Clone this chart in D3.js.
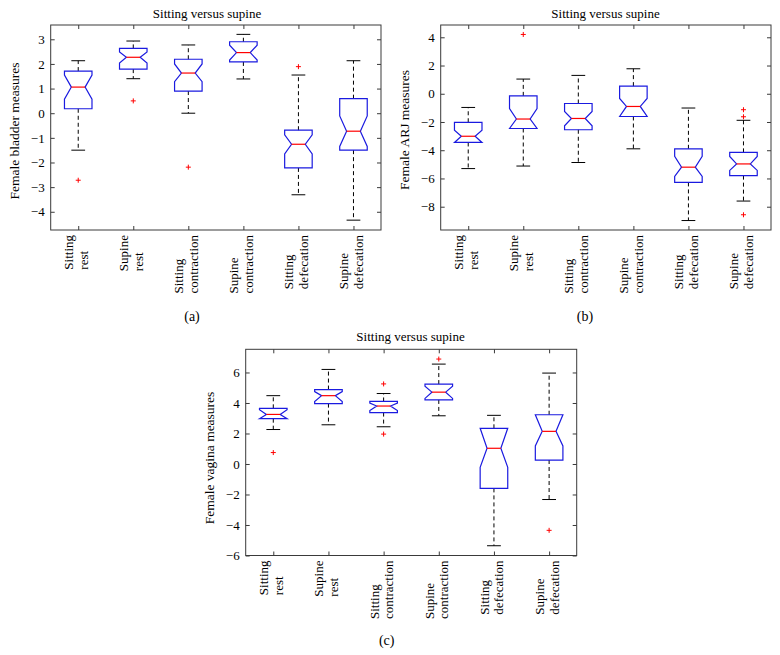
<!DOCTYPE html>
<html><head><meta charset="utf-8">
<script src="https://cdn.jsdelivr.net/npm/d3@7"></script>
<style>
body{margin:0;background:#fff}
svg{display:block}
text{font-family:"Liberation Serif","Times New Roman",serif;fill:#000}
</style>
</head><body>
<svg id="chart" width="780" height="655"></svg>
<script>
// ---------- data ----------
const categories = [["Sitting","rest"],["Supine","rest"],["Sitting","contraction"],["Supine","contraction"],["Sitting","defecation"],["Supine","defecation"]];
const titleText = "Sitting versus supine";

// (a) Female bladder measures
const bladderTicks = [-4,-3,-2,-1,0,1,2,3];
const bladderWhiskerHigh = [2.13, 2.93, 2.77, 3.20, 1.55, 2.13];
const bladderQ3          = [1.71, 2.63, 2.19, 2.90, -0.69, 0.59];
const bladderNotchHigh   = [1.55, 2.49, 2.00, 2.76, -0.88, -0.11];
const bladderMedian      = [1.06, 2.27, 1.63, 2.46, -1.26, -0.73];
const bladderNotchLow    = [0.57, 2.04, 1.28, 2.16, -1.65, -1.35];
const bladderQ1          = [0.18, 1.79, 0.90, 2.08, -2.22, -1.50];
const bladderWhiskerLow  = [-1.50, 1.40, 0.00, 1.39, -3.31, -4.34];
const bladderOutliers    = [[-2.72],[0.50],[-2.19],[],[1.89],[]];

// (b) Female ARJ measures
const arjTicks = [-8,-6,-4,-2,0,2,4];
const arjWhiskerHigh = [-0.97, 1.04, 1.30, 1.77, -1.01, -1.88];
const arjQ3          = [-2.02, -0.15, -0.69, 0.54, -3.90, -4.15];
const arjNotchHigh   = [-2.58, -1.05, -1.25, -0.33, -4.44, -4.44];
const arjMedian      = [-3.01, -1.79, -1.75, -0.90, -5.20, -4.97];
const arjNotchLow    = [-3.45, -2.46, -2.27, -1.61, -5.86, -5.43];
const arjQ1          = [-3.45, -2.46, -2.55, -1.61, -6.28, -5.80];
const arjWhiskerLow  = [-5.30, -5.12, -4.87, -3.90, -8.98, -7.60];
const arjOutliers    = [[],[4.20],[],[],[],[-1.13,-1.63,-8.57]];

// (c) Female vagina measures
const vaginaTicks = [-6,-4,-2,0,2,4,6];
const vaginaWhiskerHigh = [4.48, 6.20, 4.62, 6.55, 3.19, 5.96];
const vaginaQ3          = [3.65, 4.88, 4.10, 5.24, 2.34, 3.23];
const vaginaNotchHigh   = [3.56, 4.75, 4.00, 5.10, 2.34, 3.23];
const vaginaMedian      = [3.25, 4.48, 3.80, 4.71, 1.03, 2.14];
const vaginaNotchLow    = [2.97, 4.10, 3.50, 4.30, -0.22, 1.18];
const vaginaQ1          = [2.97, 3.96, 3.37, 4.20, -1.60, 0.26];
const vaginaWhiskerLow  = [2.26, 2.57, 2.44, 3.16, -5.36, -2.33];
const vaginaOutliers    = [[0.75],[],[5.25,1.96],[6.88],[],[-4.35]];

// ---------- build ----------
function makeRows(wh, q3, nh, med, nl, q1, wl, out){
  return categories.map((c,i)=>({name:c.join(" "), lines:c, wh:wh[i], q3:q3[i], nh:nh[i], med:med[i], nl:nl[i], q1:q1[i], wl:wl[i], out:out[i]}));
}

const panels = [
  {left:50.7, top:25, width:330.3, height:205, domain:[-4.74,3.58], ticks:bladderTicks,
   ylabel:"Female bladder measures", ylabelY:131, titleX:207, titleY:17.5, caption:"(a)", capX:192, capY:320.5,
   rows:makeRows(bladderWhiskerHigh,bladderQ3,bladderNotchHigh,bladderMedian,bladderNotchLow,bladderQ1,bladderWhiskerLow,bladderOutliers)},
  {left:440.7, top:25, width:330.3, height:205, domain:[-9.65,4.87], ticks:arjTicks,
   ylabel:"Female ARJ measures", ylabelY:130, titleX:605.5, titleY:17.5, caption:"(b)", capX:585, capY:320.5,
   rows:makeRows(arjWhiskerHigh,arjQ3,arjNotchHigh,arjMedian,arjNotchLow,arjQ1,arjWhiskerLow,arjOutliers)},
  {left:245.7, top:349.3, width:331, height:206.2, domain:[-6,7.52], ticks:vaginaTicks,
   ylabel:"Female vagina measures", ylabelY:458, titleX:410.5, titleY:341, caption:"(c)", capX:386.7, capY:645,
   rows:makeRows(vaginaWhiskerHigh,vaginaQ3,vaginaNotchHigh,vaginaMedian,vaginaNotchLow,vaginaQ1,vaginaWhiskerLow,vaginaOutliers)}
];

const svg = d3.select("#chart");
const frameColor = "#3a3a3a";
const boxColor = "#1a1ae0";
const serif = '"Liberation Serif","Times New Roman",serif';

panels.forEach(p=>{
  const g = svg.append("g").attr("transform",`translate(${p.left},${p.top})`);
  const x = d3.scalePoint().domain(p.rows.map(r=>r.name)).range([0,p.width]).padding(0.5);
  const y = d3.scaleLinear().domain(p.domain).range([p.height,0]);
  const step = x.step();
  const hw = step*0.25;

  // axes (inward ticks on all four sides)
  const axL = g.append("g").call(d3.axisLeft(y).tickValues(p.ticks).tickSizeInner(-4).tickSizeOuter(0).tickPadding(6));
  const axR = g.append("g").attr("transform",`translate(${p.width},0)`).call(d3.axisRight(y).tickValues(p.ticks).tickSizeInner(-4).tickSizeOuter(0).tickFormat(""));
  const axB = g.append("g").attr("transform",`translate(0,${p.height})`).call(d3.axisBottom(x).tickSizeInner(-4).tickSizeOuter(0).tickFormat(""));
  const axT = g.append("g").call(d3.axisTop(x).tickSizeInner(-4).tickSizeOuter(0).tickFormat(""));
  [axL,axR,axB,axT].forEach(a=>{
    a.attr("font-family",serif).attr("font-size",13);
    a.select(".domain").remove();
    a.selectAll(".tick line").attr("stroke",frameColor);
  });
  axL.selectAll(".tick text").attr("fill","#000");

  g.append("rect").attr("x",0).attr("y",0).attr("width",p.width).attr("height",p.height)
    .attr("fill","none").attr("stroke",frameColor).attr("stroke-width",1);

  // category labels (rotated, two lines, block top-aligned under axis)
  p.rows.forEach(r=>{
    const cx = x(r.name);
    const lg = g.append("g");
    const texts = r.lines.map((t,k)=> lg.append("text")
      .attr("font-size",13)
      .attr("transform",`translate(${cx + (k===0?-5:9.5)},0) rotate(-90)`)
      .attr("text-anchor","start").text(t));
    const maxLen = d3.max(texts, t=>t.node().getComputedTextLength());
    texts.forEach((t,k)=> t.attr("transform",`translate(${cx + (k===0?-5:9.5)},${p.height+5+maxLen}) rotate(-90)`));
  });

  // boxes
  const bx = g.append("g");
  p.rows.forEach(r=>{
    const cx = x(r.name);
    const nh = Math.min(r.nh, r.q3), nl = Math.max(r.nl, r.q1);
    // whiskers
    bx.append("line").attr("x1",cx).attr("x2",cx).attr("y1",y(r.q3)).attr("y2",y(r.wh))
      .attr("stroke","#000").attr("stroke-dasharray","4,3");
    bx.append("line").attr("x1",cx).attr("x2",cx).attr("y1",y(r.q1)).attr("y2",y(r.wl))
      .attr("stroke","#000").attr("stroke-dasharray","4,3");
    [r.wh, r.wl].forEach(v=> bx.append("line").attr("x1",cx-hw/2).attr("x2",cx+hw/2)
      .attr("y1",y(v)).attr("y2",y(v)).attr("stroke","#000"));
    // notched box
    const pts = [[cx-hw,r.q1],[cx-hw,nl],[cx-hw/2,r.med],[cx-hw,nh],[cx-hw,r.q3],
                 [cx+hw,r.q3],[cx+hw,nh],[cx+hw/2,r.med],[cx+hw,nl],[cx+hw,r.q1]];
    bx.append("path").attr("d", d3.line().x(d=>d[0]).y(d=>y(d[1]))(pts)+"Z")
      .attr("fill","none").attr("stroke",boxColor).attr("stroke-width",1.2);
    bx.append("line").attr("x1",cx-hw/2).attr("x2",cx+hw/2).attr("y1",y(r.med)).attr("y2",y(r.med))
      .attr("stroke","#ff0000").attr("stroke-width",1.2);
    // outliers
    r.out.forEach(v=>{
      bx.append("path").attr("d",`M${cx-2.5},${y(v)}H${cx+2.5}M${cx},${y(v)-2.5}V${y(v)+2.5}`)
        .attr("stroke","#ff0000").attr("stroke-width",1);
    });
  });

  // title, y label, caption
  svg.append("text").attr("x",p.titleX).attr("y",p.titleY).attr("text-anchor","middle")
    .attr("font-size",13).text(titleText);
  svg.append("text").attr("transform",`translate(${p.left-36},${p.ylabelY}) rotate(-90)`)
    .attr("text-anchor","middle").attr("dy","0.35em").attr("font-size",13.5).text(p.ylabel);
  svg.append("text").attr("x",p.capX).attr("y",p.capY).attr("text-anchor","middle")
    .attr("font-size",14).text(p.caption);
});
</script>
</body></html>
